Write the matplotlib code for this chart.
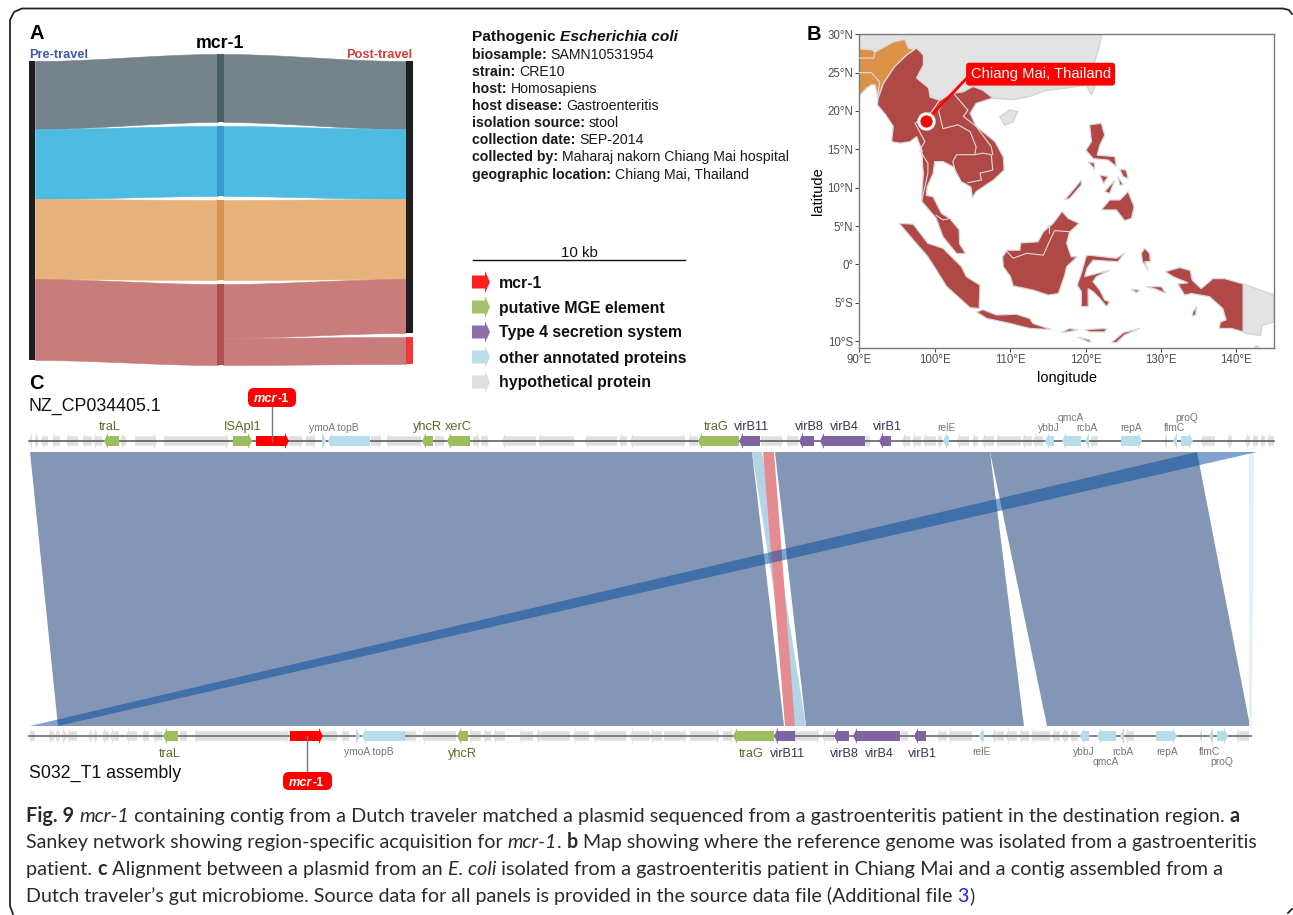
import numpy as np
import matplotlib
matplotlib.use("Agg")
import matplotlib.pyplot as plt
from matplotlib.patches import Polygon, FancyBboxPatch

plt.rcParams["font.family"] = ["Liberation Sans", "DejaVu Sans"]

# panel A: sankey flow sizes
pre_travel = [68, 70, 80, 81]
red_split = [54, 27]
flow_colors = ["#75848A", "#4EBBE2", "#E8B27C", "#C87C7C"]
node_colors = ["#4A6068", "#379CCB", "#D8924F", "#AE5050"]

# panel A text
meta_title = [("Pathogenic ", "bold", "normal"), ("Escherichia coli", "bold", "italic")]
meta_keys = ["biosample:", "strain:", "host:", "host disease:", "isolation source:",
             "collection date:", "collected by:", "geographic location:"]
meta_values = ["SAMN10531954", "CRE10", "Homosapiens", "Gastroenteritis", "stool",
               "SEP-2014", "Maharaj nakorn Chiang Mai hospital", "Chiang Mai, Thailand"]

legend_labels = ["mcr-1", "putative MGE element", "Type 4 secretion system",
                 "other annotated proteins", "hypothetical protein"]
legend_colors = ["#FF2020", "#A5C26B", "#8C70AC", "#BBDFE9", "#DFDFDF"]

# panel B: outlines in lon, lat
china = [(90, 30), (122.1, 30), (121.9, 28.6), (121.0, 25.8), (121.45, 23.8), (120.8, 22.1), (120.1, 23.4),
         (117.5, 23.0), (114.8, 22.7), (112.6, 21.9), (110.4, 21.5), (107.7, 21.65), (100, 21.5), (97, 25),
         (96, 28), (90, 28)]
hainan = [(108.65, 19.25), (110, 20.15), (111, 19.9), (110.4, 18.6), (109.3, 18.15)]
png = [(140.9, -2.55), (145, -4.0), (145, -7.5), (143.4, -7.95), (143.2, -9.25), (141.4, -9.05), (140.9, -8.8)]
australia_tip = [(142.4, -10.9), (142.7, -10.6), (143, -10.9)]
india = [(90, 28.1), (91.6, 28.0), (92.1, 27.7), (94.5, 29.0), (96.05, 29.35), (96.5, 28.2), (97.15, 28.05),
         (97.6, 28.2), (96.3, 27.3), (94.7, 25.8), (93.2, 23.6), (92.5, 21.65), (92.1, 23.4), (91.6, 23.4),
         (91.0, 23.0), (90, 22.0)]
mainland = [(97.6, 28.2), (98.5, 27.3), (98.5, 26.0), (97.6, 24.3), (99.2, 23.0), (99.4, 21.8), (100.7, 21.4),
            (102.2, 22.3), (103.8, 22.5), (105.1, 23.2), (106.4, 22.7), (107.7, 21.7), (105.5, 21.0),
            (104.7, 19.7), (105.5, 18.0), (108.0, 16.0), (109.1, 14.0), (109.2, 12.3), (107.8, 11.0),
            (105.5, 9.5), (105.0, 8.7), (104.8, 10.1), (103.5, 10.8), (102.5, 12.7), (101.1, 13.4),
            (100.0, 13.4), (99.8, 11.9), (99.0, 10.1), (98.9, 9.0), (99.8, 8.8), (100.9, 6.65), (102.0, 6.0),
            (103.25, 4.5), (103.3, 2.7), (104.1, 1.4), (102.9, 1.4), (101.1, 3.6), (100.2, 6.0), (98.3, 8.2),
            (98.3, 9.3), (98.5, 11.9), (98.4, 12.7), (98.3, 14.9), (97.6, 16.65), (96.7, 16.0), (95.4, 15.8),
            (94.3, 16.0), (94.5, 18.0), (93.5, 19.5), (92.4, 20.8), (92.5, 21.65), (93.2, 23.6), (94.7, 25.8),
            (96.3, 27.3)]
sumatra = [(95.3, 5.35), (97.15, 5.25), (99.1, 2.75), (101.1, 2.1), (103.55, -0.3), (104.2, -1.6), (106.0, -2.7),
           (105.9, -5.75), (104.7, -5.65), (101.6, -2.9), (99.1, 1.0), (97.15, 3.2)]
java = [(105.55, -6.2), (106.4, -5.9), (108.2, -6.6), (110.85, -6.5), (112.6, -7.05), (113.05, -7.7), (115.5, -8.5),
        (112.6, -8.35), (110, -7.7), (106.9, -7.05)]
borneo = [(109.6, 1.85), (111.3, 1.85), (111.4, 2.8), (113.7, 2.95), (114.4, 4.25), (115.7, 5.35), (116.9, 6.9),
          (117.7, 6.0), (119.15, 5.35), (117.9, 4.25), (117.5, 2.75), (118.1, 1.0), (118.9, 1.0), (117.5, -0.3),
          (117.25, -1.4), (116.4, -3.8), (115.05, -4.0), (113.05, -3.35), (110.4, -2.8), (110.05, -1.6),
          (109.1, -0.3), (109.0, 1.0)]
sulawesi = [(120.1, 1.1), (120.55, 1.2), (124.1, 0.8), (125.2, 1.5), (124.3, 0.35), (121.0, 0.55), (120.2, -0.5),
            (119.9, -1.6), (123.2, -0.75), (121.45, -1.6), (121.0, -2.25), (121.9, -3.35), (122.55, -4.65),
            (123.2, -4.85), (122.8, -5.5), (121.9, -4.45), (121.0, -3.55), (120.35, -3.15), (120.35, -5.5),
            (119.45, -5.5), (119.45, -3.55), (118.9, -2.7), (119.45, -1.15)]
luzon = [(120.55, 18.2), (122.1, 18.4), (122.55, 16.85), (121.9, 15.55), (121.55, 14.25), (123.9, 14.05),
         (124.1, 12.75), (123, 13.6), (121, 13.8), (120.05, 14.9), (120.8, 16.0)]
mindoro = [(120.35, 13.4), (121.2, 13.2), (121.2, 12.4)]
palawan = [(117.25, 8.4), (119.45, 11), (119.45, 10.35), (117.9, 8.6)]
panay = [(121.9, 11.65), (123, 11.45), (122.4, 10.55)]
negros = [(122.55, 9.5), (123.9, 11), (123.2, 9.25)]
leyte = [(124.3, 11.45), (125, 10.35), (124.55, 10.35)]
samar = [(124.55, 12.4), (125.4, 12.3), (125.65, 11.2), (125, 11.45)]
mindanao = [(122.1, 7.1), (123.2, 8.4), (124.55, 8.4), (125.65, 9.5), (126.45, 7.5), (126.1, 6.0), (125.2, 5.7),
            (124.1, 7.1)]
halmahera = [(127.85, 2.1), (128.5, 1.45), (128.6, 0.35), (127.85, 0.35), (128.3, -0.75), (127.55, 0.35),
             (127.4, 1.45)]
seram = [(128.05, -2.9), (130.05, -2.9), (130.7, -3.8), (129.4, -3.25)]
buru = [(126.1, -3.25), (127.2, -3.35), (126.75, -3.7)]
timor = [(123.45, -10.2), (125, -8.9), (127.2, -8.35), (125.2, -9.2), (124.1, -10.2)]
sumbawa = [(116.8, -8.9), (117.9, -8.35), (119, -8.55), (117, -8.9)]
flores = [(119.9, -8.5), (122.8, -8.35), (122.55, -8.8), (120.55, -8.8)]
sumba = [(119, -9.5), (120.55, -9.8), (120.65, -10.2)]
papua = [(130.6, -0.95), (132.5, -0.4), (133.9, -0.8), (134.15, -2.05), (135.35, -3.15), (136.9, -1.85),
         (138.45, -1.85), (140.9, -2.55), (140.9, -8.8), (139.35, -8.35), (137.7, -8.35), (137.9, -7.5),
         (138.65, -7.25), (138.2, -5.75), (136.45, -4.2), (134.05, -3.8), (133.15, -4), (132.25, -2.55),
         (133.6, -2.4), (131.6, -1.6)]
aru = [(134.25, -6.2), (134.7, -5.5), (134.6, -6.6), (134.15, -6.75)]

red_lands = [mainland, sumatra, java, borneo, sulawesi, luzon, mindoro, palawan, panay, negros, leyte, samar,
             mindanao, halmahera, seram, buru, timor, sumbawa, flores, sumba, papua, aru]
grey_lands = [china, hainan, png, australia_tip]

borders = [
    [(100.7, 21.5), (99.6, 19.9), (97.4, 18.4), (98.7, 16.0), (98.0, 14.9), (99.1, 13.2), (99.1, 11.9), (98.7, 10.1),
     (98.3, 8.4)],
    [(102.2, 22.3), (100.5, 20.1), (101.1, 17.7), (103.1, 18.2), (104.7, 17.3), (105.5, 15.3), (105.3, 14.3),
     (102.9, 14.3), (102.4, 13.4), (102.7, 12.3)],
    [(105.3, 14.3), (106.4, 14.5), (107.5, 14.3), (107.7, 12.3), (106.0, 11.9), (106.2, 11.0), (104.4, 10.65)],
    [(102.5, 22.3), (104.4, 20.1), (103.8, 19.3), (105.5, 18.0), (107.5, 15.35), (107.7, 14.3)],
    [(100.2, 6.4), (101.1, 5.8), (102.0, 6.0)],
    [(90, 26.9), (91.9, 26.9), (92.1, 27.7)],
    [(90, 25.0), (91.6, 25.0), (92.7, 23.8), (92.5, 22.3)],
    [(109.6, 1.65), (110.4, 0.8), (112.2, 1.45), (114.4, 1.2), (115.5, 3.6), (115.9, 4.4), (118.1, 4.25)],
    [(114.4, 4.25), (115.25, 5.1), (115.2, 4.05)],
]

city_lon, city_lat = 98.9, 18.75
city_label_lon, city_label_lat = 104.75, 24.8
lon_ticks = [90, 100, 110, 120, 130, 140]
lon_labels = ["90°E", "100°E", "110°E", "120°E", "130°E", "140°E"]
lat_ticks = [-10, -5, 0, 5, 10, 15, 20, 25, 30]
lat_labels = ["10°S", "5°S", "0°", "5°N", "10°N", "15°N", "20°N", "25°N", "30°N"]

# panel C: genes as (start, end), arrow points from start to end
top_hypo = [(32, 29), (38, 34), (48, 41), (60, 52), (78, 66), (92, 82), (102, 93), (126, 120), (135, 157), (164, 229),
            (289, 303), (306, 316), (371, 382), (421, 386), (444, 434), (473, 480), (481, 489), (536, 502),
            (574, 538), (617, 585), (627, 619), (650, 630), (650, 686), (698, 688), (761, 783), (798, 786),
            (865, 871), (910, 902), (921, 912), (936, 923), (942, 937), (969, 957), (978, 972), (994, 982),
            (1021, 996), (1032, 1022), (1043, 1033), (1098, 1090), (1167, 1164), (1215, 1201), (1232, 1227),
            (1250, 1245), (1258, 1252), (1265, 1260), (1274, 1267)]
top_mge = [(119, 104), (233, 252), (433, 422), (470, 447), (739, 698)]
top_t4ss = [(760, 739), (814, 799), (865, 820), (891, 879)]
top_other = [(322, 326), (370, 328), (949, 943), (1054, 1045), (1081, 1062), (1089, 1085), (1121, 1142),
             (1177, 1173), (1181, 1193)]
top_mcr = (256, 289)
top_track = (29, 1274)

bottom_hypo = [(35, 29), (54, 48), (60, 55), (66, 61), (77, 67), (92, 88), (97, 93), (109, 102), (119, 110),
               (137, 126), (149, 142), (162, 153), (187, 179), (200, 194), (200, 289), (323, 338), (349, 341),
               (405, 417), (456, 422), (481, 469), (491, 483), (505, 493), (533, 519), (570, 536), (589, 573),
               (626, 593), (650, 630), (662, 650), (664, 687), (690, 720), (723, 733), (795, 820), (834, 822),
               (908, 900), (947, 937), (972, 948), (1004, 992), (1017, 1006), (1029, 1019), (1050, 1031),
               (1060, 1052), (1068, 1062), (1078, 1070), (1134, 1125), (1202, 1199), (1249, 1236)]
bottom_mge = [(178, 163), (468, 457), (774, 733)]
bottom_t4ss = [(795, 774), (849, 834), (900, 853), (926, 914)]
bottom_other = [(356, 360), (405, 362), (984, 979), (1089, 1080), (1116, 1097), (1124, 1120), (1156, 1177),
                (1213, 1209), (1217, 1228)]
bottom_mcr = (290, 323)
bottom_track = (29, 1251)

# gene labels: name, centre, row (0 near the track, 1 further away)
top_labels_big = [("traL", 110, "#5A6B2A"), ("ISApl1", 243, "#5A6B2A"), ("yhcR", 427, "#5A6B2A"),
                  ("xerC", 458, "#5A6B2A"), ("traG", 716, "#5A6B2A"), ("virB11", 752, "#3E3350"),
                  ("virB8", 809, "#3E3350"), ("virB4", 844, "#3E3350"), ("virB1", 887, "#3E3350")]
top_labels_small = [("ymoA topB", 334, 0), ("relE", 946, 0), ("ybbJ", 1049, 0), ("qmcA", 1071, 1), ("rcbA", 1087, 0),
                    ("repA", 1131, 0), ("flmC", 1175, 0), ("proQ", 1187, 1)]
bottom_labels_big = [("traL", 170, "#5A6B2A"), ("yhcR", 462, "#5A6B2A"), ("traG", 751, "#5A6B2A"),
                     ("virB11", 788, "#3E3350"), ("virB8", 844, "#3E3350"), ("virB4", 879, "#3E3350"),
                     ("virB1", 922, "#3E3350")]
bottom_labels_small = [("ymoA topB", 369, 0), ("relE", 981, 0), ("ybbJ", 1084, 0), ("rcbA", 1123, 0), ("qmcA", 1106, 1),
                       ("repA", 1167, 0), ("flmC", 1210, 0), ("proQ", 1222, 1)]

# alignments: (top start, top end, bottom start, bottom end)
main_blocks = [(30, 752, 58, 784), (775, 990, 806, 1024), (990, 1197, 1047, 1250)]
light_block = (752, 762, 795, 806)
red_block = (763, 774, 785, 795)
pale_block = (1249, 1254, 1249, 1252)
inverted_block = (1197, 1257, 30, 58)

caption_lines = [
    [("Fig. 9 ", "bold", "normal"), ("mcr-1", "normal", "italic"),
     (" containing contig from a Dutch traveler matched a plasmid sequenced from a gastroenteritis patient in the destination region. ", "normal", "normal"),
     ("a", "bold", "normal")],
    [("Sankey network showing region-specific acquisition for ", "normal", "normal"), ("mcr-1", "normal", "italic"),
     (". ", "normal", "normal"), ("b", "bold", "normal"),
     (" Map showing where the reference genome was isolated from a gastroenteritis", "normal", "normal")],
    [("patient. ", "normal", "normal"), ("c", "bold", "normal"), (" Alignment between a plasmid from an ", "normal", "normal"),
     ("E. coli", "normal", "italic"),
     (" isolated from a gastroenteritis patient in Chiang Mai and a contig assembled from a", "normal", "normal")],
    [("Dutch traveler’s gut microbiome. Source data for all panels is provided in the source data file (Additional file ", "normal", "normal"),
     ("3", "normal", "normal", "#2222DD"), (")", "normal", "normal")],
]

fig = plt.figure(figsize=(12.93, 9.15), dpi=100)
ax = fig.add_axes([0, 0, 1, 1])
ax.set_xlim(0, 1293)
ax.set_ylim(915, 0)
ax.axis("off")
renderer = fig.canvas.get_renderer()


def text_runs(x, y, runs, size, color="#222222", family=None, zorder=3):
    # runs of mixed weight/style on one baseline
    for run in runs:
        kw = dict(fontsize=size, fontweight=run[1], fontstyle=run[2], va="baseline", ha="left")
        if family:
            kw["family"] = family
        ax.text(x, y, run[0], color=run[3] if len(run) > 3 else color, zorder=zorder, **kw)
        probe = ax.text(0, 0, run[0] + "|", **kw)
        bar = ax.text(0, 0, "|", **kw)
        x += probe.get_window_extent(renderer).width - bar.get_window_extent(renderer).width
        probe.remove()
        bar.remove()
    return x


def ribbon(x0, x1, t0, b0, t1, b1, color, zorder=2):
    xs = np.linspace(x0, x1, 60)
    u = (xs - x0) / (x1 - x0)
    s = 3 * u ** 2 - 2 * u ** 3
    top = t0 + (t1 - t0) * s
    bot = b0 + (b1 - b0) * s
    ax.fill_between(xs, top, bot, fc=color, ec=color, lw=0.4, zorder=zorder)


def gene(start, end, y, color, half=5, head_half=8, head=4, zorder=4):
    sign = 1 if end > start else -1
    neck = end - sign * min(head, abs(end - start))
    pts = [(start, y - half), (neck, y - half), (neck, y - head_half), (end, y),
           (neck, y + head_half), (neck, y + half), (start, y + half)]
    ax.add_patch(Polygon(pts, closed=True, fc=color, ec="none", zorder=zorder))


def callout(x0, x1, y0, y1, line_x, line_y):
    ax.plot([line_x, line_x], [y0 if line_y < y0 else y1, line_y], color="#777777", lw=1, zorder=5)
    ax.add_patch(FancyBboxPatch((x0 + 6, y0 + 6), x1 - x0 - 12, y1 - y0 - 12, boxstyle="round,pad=6",
                                fc="#FF0000", ec="none", zorder=6))
    text_runs(x0 + 6, (y0 + y1) / 2 + 4.5, [("mcr", "bold", "italic"), ("-1", "bold", "normal")], 9.2,
              color="white", zorder=7)


def block(b, color, alpha=1.0, zorder=1):
    pts = [(b[0], track_bottom), (b[1], track_bottom), (b[3], track_top), (b[2], track_top)]
    ax.add_patch(Polygon(pts, closed=True, fc=color, ec="none", alpha=alpha, zorder=zorder))


# outer frame
frame_x = [1292, 1289, 1283, 22, 14, 10, 10, 13]
frame_y = [14, 10, 8.5, 8.5, 12, 20, 906, 914]
ax.plot(frame_x, frame_y, color="#222222", lw=1.3, zorder=1)
ax.plot([1288, 1292], [913, 909], color="#222222", lw=1.3)

# ---- panel A
ax.text(29, 39, "A", fontsize=14.5, fontweight="bold", color="black")
ax.text(220, 43.5, "mcr-1", fontsize=12.7, fontweight="bold", ha="center", va="center", color="black", zorder=5)
ax.text(29, 58, "Pre-travel", fontsize=9.2, fontweight="bold", color="#3F58A8")
ax.text(412.5, 58, "Post-travel", fontsize=9.2, fontweight="bold", color="#D93A3A", ha="right")

left_y = 61.0
mid_y = 54.0
right_y = 61.0
gap = 4
for i, size in enumerate(pre_travel):
    ribbon(35, 218, left_y, left_y + size, mid_y, mid_y + size, flow_colors[i])
    if i < 3:
        ribbon(223, 406, mid_y, mid_y + size, right_y, right_y + size, flow_colors[i])
        right_y += size
    else:
        ribbon(223, 406, mid_y + red_split[0], mid_y + size, right_y + red_split[0] + gap,
               right_y + size + gap, flow_colors[i])
        ribbon(223, 406, mid_y, mid_y + red_split[0], right_y, right_y + red_split[0], flow_colors[i])
        ax.fill_between([406, 413], right_y + red_split[0] + gap, right_y + size + gap, color="#EE3A3A", lw=0, zorder=3)
        right_y += red_split[0]
    ax.fill_between([217, 224], mid_y, mid_y + size, color=node_colors[i], lw=0, zorder=3)
    left_y += size
    mid_y += size + gap
ax.fill_between([29, 35], 61, left_y, color="#1C1E20", lw=0, zorder=3)
ax.fill_between([406, 413], 61, right_y, color="#1C1E20", lw=0, zorder=3)

# metadata block
text_runs(472, 41, meta_title, 11.15, color="#111111")
meta_y = [59, 76, 93, 110, 127, 144, 161.5, 178.5]
for y, key, value in zip(meta_y, meta_keys, meta_values):
    text_runs(472, y, [(key + " ", "bold", "normal"), (value, "normal", "normal")], 10.15, color="#1a1a1a")

# scale bar and gene legend
ax.plot([473, 685], [260, 260], color="#111111", lw=1)
ax.text(579, 257, "10 kb", fontsize=10.8, ha="center", color="#111111")
for y, label, color in zip([282, 307, 332, 357, 382], legend_labels, legend_colors):
    gene(472, 490, y, color, half=6.5, head_half=11, head=5)
    ax.text(499, y + 1, label, fontsize=11.4, fontweight="bold", va="center", color="#111111")

# ---- panel B
ax.text(807, 40, "B", fontsize=14.5, fontweight="bold", color="black")
map_ax = fig.add_axes([859.3 / 1293, 1 - 348 / 915, (1274 - 859.3) / 1293, (348 - 34.3) / 915])
map_ax.set_xlim(90, 145)
map_ax.set_ylim(-10.9, 30)
for land in grey_lands:
    map_ax.add_patch(Polygon(land, closed=True, fc="#E3E3E3", ec="#D4D4D4", lw=1, zorder=1))
map_ax.add_patch(Polygon(india, closed=True, fc="#DD9146", ec="#D9D9D9", lw=1, zorder=2))
for land in red_lands:
    map_ax.add_patch(Polygon(land, closed=True, fc="#B04846", ec="#D9D9D9", lw=0.9, zorder=3))
for line in borders:
    xs, ys = zip(*line)
    map_ax.plot(xs, ys, color="#DDDDDD", lw=0.8, zorder=4)
map_ax.plot([city_lon, city_label_lon], [city_lat, city_label_lat], color="#FF0000", lw=2, zorder=5)
map_ax.plot(city_lon, city_lat, "o", ms=11, mfc="#FF0000", mec="white", mew=2.2, zorder=6)
map_ax.text(city_label_lon, city_label_lat, "Chiang Mai, Thailand", color="white", fontsize=10.6, va="center",
            zorder=7, bbox=dict(boxstyle="round,pad=0.3,rounding_size=0.2", fc="#FF0000", ec="none"))
map_ax.set_xticks(lon_ticks)
map_ax.set_xticklabels(lon_labels)
map_ax.set_yticks(lat_ticks)
map_ax.set_yticklabels(lat_labels)
map_ax.tick_params(labelsize=8.3, colors="#4D4D4D", length=2.7, width=0.8, pad=1.5)
map_ax.set_xlabel("longitude", fontsize=10.5, labelpad=4)
map_ax.set_ylabel("latitude", fontsize=10.5, labelpad=2)
for spine in map_ax.spines.values():
    spine.set_color("#7A7A7A")
    spine.set_linewidth(1)

# ---- panel C
track_top_y = 441
track_bottom_y = 736
track_bottom = 452
track_top = 726

ax.text(29, 389, "C", fontsize=14.5, fontweight="bold", color="black")
ax.text(29, 411, "NZ_CP034405.1", fontsize=12.8, color="#111111")
ax.text(29, 778, "S032_T1 assembly", fontsize=12.8, color="#111111")

for b in main_blocks:
    block(b, "#8396B5")
block(light_block, "#B3D3E6", zorder=2)
block(red_block, "#E58C90", zorder=3)
block(pale_block, "#E8F0F6", zorder=1)
block(inverted_block, "#00499F", alpha=0.5, zorder=3)

for (x0, x1), y, col, lw in [(top_track, track_top_y, "#555555", 1.1), (bottom_track, track_bottom_y, "#808080", 1.4)]:
    ax.plot([x0, x1], [y, y], color=col, lw=lw, zorder=3)

for y, hypo, mge, t4ss, other, mcr in [
    (track_top_y, top_hypo, top_mge, top_t4ss, top_other, top_mcr),
    (track_bottom_y, bottom_hypo, bottom_mge, bottom_t4ss, bottom_other, bottom_mcr),
]:
    for s, e in hypo:
        gene(s, e, y, "#DFDFDF", half=4.7, head_half=8, head=3, zorder=2)
    for s, e in mge:
        gene(s, e, y, "#9DBE5E")
    for s, e in t4ss:
        gene(s, e, y, "#8064A2")
    for s, e in other:
        gene(s, e, y, "#B7DEE8")
    gene(mcr[0], mcr[1], y, "#FF0000")

for label, x, col in top_labels_big:
    ax.text(x, 430, label, fontsize=9.2, ha="center", color=col)
for label, x, row in top_labels_small:
    ax.text(x, 431 - 10 * row, label, fontsize=7.4, ha="center", color="#777777")
for label, x, col in bottom_labels_big:
    ax.text(x, 757, label, fontsize=9.2, ha="center", color=col)
for label, x, row in bottom_labels_small:
    ax.text(x, 755 + 10 * row, label, fontsize=7.4, ha="center", color="#777777")

callout(248, 296, 388, 407, 272, 441)
callout(283, 332, 772, 790, 307, 736)

# caption
for y, size, line in zip([822, 848, 875, 902], [14.3, 14.13, 14.3, 14.15], caption_lines):
    text_runs(26, y, line, size, color="#2a2a2a", family="Lato")

fig.savefig("out.png", dpi=100)
